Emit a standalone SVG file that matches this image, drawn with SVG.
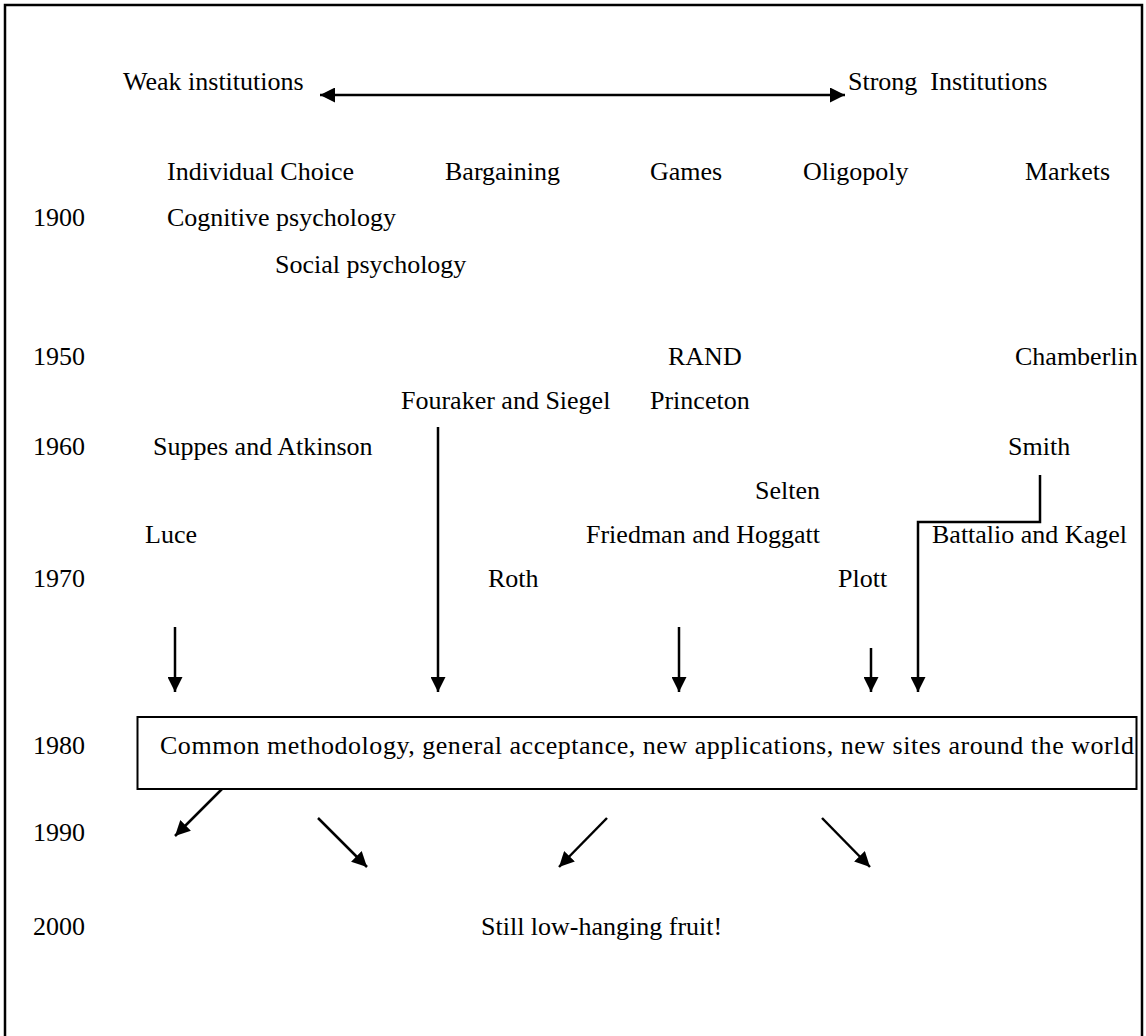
<svg xmlns="http://www.w3.org/2000/svg" width="1146" height="1036" viewBox="0 0 1146 1036">
<style>
text{font-family:"Liberation Serif","Times New Roman",serif;font-size:26px;fill:#000}
.ln{stroke:#000;stroke-width:2.5;fill:none}
</style>
<defs>
<marker id="ah" viewBox="0 0 10 10" refX="10" refY="5" markerWidth="6" markerHeight="6" markerUnits="strokeWidth" orient="auto-start-reverse">
<path d="M0,0 L10,5 L0,10 z" fill="#000"/>
</marker>
</defs>
<rect width="1146" height="1036" fill="#fff"/>
<path class="ln" d="M5,1036 V5 H1142 V1036"/>
<g id="labels">
<text x="123" y="90">Weak institutions</text>
<text x="848" y="90" xml:space="preserve">Strong  Institutions</text>
<text x="167" y="180">Individual Choice</text>
<text x="445" y="180">Bargaining</text>
<text x="650" y="180">Games</text>
<text x="803" y="180">Oligopoly</text>
<text x="1025" y="180">Markets</text>
</g>
<g id="years">
<text x="33" y="226">1900</text>
<text x="33" y="365">1950</text>
<text x="33" y="455">1960</text>
<text x="33" y="587">1970</text>
<text x="33" y="754">1980</text>
<text x="33" y="841">1990</text>
<text x="33" y="935">2000</text>
</g>
<g id="n-cognitive"><text x="167" y="226">Cognitive psychology</text></g>
<g id="n-social"><text x="275" y="273">Social psychology</text></g>
<g id="n-rand"><text x="668" y="365">RAND</text></g>
<g id="n-chamberlin"><text x="1015" y="365">Chamberlin</text></g>
<g id="n-fouraker"><text x="401" y="409">Fouraker and Siegel</text></g>
<g id="n-princeton"><text x="650" y="409">Princeton</text></g>
<g id="n-suppes"><text x="153" y="455">Suppes and Atkinson</text></g>
<g id="n-smith"><text x="1008" y="455">Smith</text></g>
<g id="n-selten"><text x="755" y="499">Selten</text></g>
<g id="n-luce"><text x="145" y="543">Luce</text></g>
<g id="n-friedman"><text x="586" y="543">Friedman and Hoggatt</text></g>
<g id="n-battalio"><text x="932" y="543">Battalio and Kagel</text></g>
<g id="n-roth"><text x="488" y="587">Roth</text></g>
<g id="n-plott"><text x="838" y="587">Plott</text></g>
<g id="n-common">
<rect x="137.5" y="717" width="999" height="72" fill="none" stroke="#000" stroke-width="2"/>
<text x="160" y="754" textLength="974" lengthAdjust="spacing">Common methodology, general acceptance, new applications, new sites around the world</text>
</g>
<g id="n-fruit"><text x="481" y="935">Still low-hanging fruit!</text></g>
<g id="connectors">
<line class="ln" x1="320" y1="95" x2="845" y2="95" marker-start="url(#ah)" marker-end="url(#ah)"/>
<line class="ln" x1="175" y1="627" x2="175" y2="692" marker-end="url(#ah)"/>
<line class="ln" x1="438" y1="427" x2="438" y2="692" marker-end="url(#ah)"/>
<line class="ln" x1="679" y1="627" x2="679" y2="692" marker-end="url(#ah)"/>
<line class="ln" x1="871" y1="648" x2="871" y2="692" marker-end="url(#ah)"/>
<path class="ln" d="M1040,475 V522 H918 V692" marker-end="url(#ah)"/>
<line class="ln" x1="222" y1="789" x2="175" y2="836" marker-end="url(#ah)"/>
<line class="ln" x1="318" y1="818" x2="367" y2="867" marker-end="url(#ah)"/>
<line class="ln" x1="607" y1="818" x2="559" y2="867" marker-end="url(#ah)"/>
<line class="ln" x1="822" y1="818" x2="870" y2="867" marker-end="url(#ah)"/>
</g>
</svg>
